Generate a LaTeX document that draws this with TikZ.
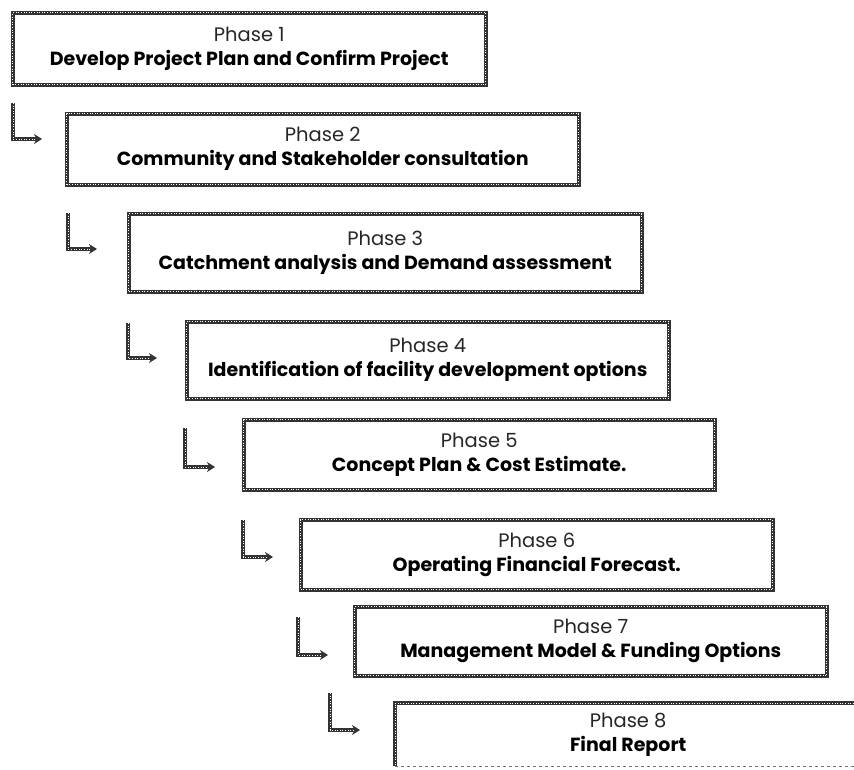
\documentclass[tikz,border=0pt]{standalone}
\usepackage{fontspec}
\setmainfont{Poppins}
\usetikzlibrary{arrows.meta}
\tikzset{
  tex/.style={draw=black!80,line width=3.5pt,
    postaction={draw=white,line width=1pt,dash pattern=on 0.9pt off 1.7pt}},
  phbox/.style={tex,inner sep=0pt,align=center,fill=white,anchor=north west,
    font=\fontsize{19}{24}\selectfont},
  arr/.style={draw=black!80,line width=3.2pt,-{Stealth[length=8pt,width=10pt]},
    postaction={draw=white,line width=1pt,dash pattern=on 0.9pt off 1.7pt,-,shorten >=7pt}}
}
\newcommand{\ph}[2]{{\fontsize{19.5}{24}\selectfont\color{black!85}Phase #1}\\{\fontsize{19}{24}\selectfont\bfseries #2}}
\begin{document}
\begin{tikzpicture}[x=1pt,y=-1pt]
\useasboundingbox (0,0) rectangle (854,769);
\node[phbox,minimum width=473pt,minimum height=72pt] (b1) at (11,11) {\ph{1}{Develop Project Plan and Confirm Project}};
\node[phbox,minimum width=512pt,minimum height=71pt] (b2) at (65,112) {\ph{2}{Community and Stakeholder consultation}};
\node[phbox,minimum width=513pt,minimum height=78pt] (b3) at (127,212) {\ph{3}{Catchment analysis and Demand assessment}};
\node[phbox,minimum width=482pt,minimum height=77pt] (b4) at (185,320) {\ph{4}{Identification of facility development options}};
\node[phbox,minimum width=471pt,minimum height=70pt] (b5) at (242,418) {\ph{5}{Concept Plan \& Cost Estimate.}};
\node[phbox,minimum width=472pt,minimum height=70pt] (b6) at (299,518) {\ph{6}{Operating Financial Forecast.}};
\node[phbox,minimum width=472pt,minimum height=69pt] (b7) at (353,605) {\ph{7}{Management Model \& Funding Options}};
\node[inner sep=0pt,anchor=north west,minimum width=466pt,minimum height=63pt,align=center,font=\fontsize{19}{24}\selectfont] (b8) at (395,703) {\ph{8}{Final Report}};
\draw[tex] (b8.north east) -- (b8.north west) -- (b8.south west);
\draw[black!55,line width=0.6pt,dashed] (b8.south west) -- (b8.south east);
% arrows
\coordinate (s1) at (13,103); \coordinate (t1) at (42,139);
\coordinate (s2) at (68,213); \coordinate (t2) at (97,249);
\coordinate (s3) at (128,323); \coordinate (t3) at (157,358);
\coordinate (s4) at (185,428); \coordinate (t4) at (215,467);
\coordinate (s5) at (243,520); \coordinate (t5) at (273,557);
\coordinate (s6) at (298,617); \coordinate (t6) at (328,655);
\coordinate (s7) at (330,693); \coordinate (t7) at (360,730);
\foreach \i in {1,...,7}{\draw[arr] (s\i) |- (t\i);}
\end{tikzpicture}
\end{document}
